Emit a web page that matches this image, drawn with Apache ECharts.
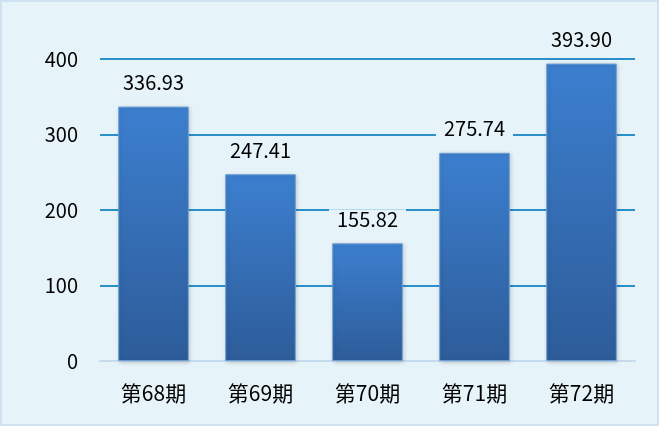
<!DOCTYPE html>
<html>
<head>
<meta charset="utf-8">
<script src="https://cdn.jsdelivr.net/npm/echarts@6/dist/echarts.min.js"></script>
<style>
  html, body { margin: 0; padding: 0; }
  #chart { width: 659px; height: 426px; box-sizing: border-box; border: 2px solid #cfe2f1; background: #e6f3f8; }
</style>
</head>
<body>
<div id="chart"></div>
<script>
const categories = ['第68期', '第69期', '第70期', '第71期', '第72期']
const values = [336.93, 247.41, 155.82, 275.74, 393.90]
const yTicks = { min: 0, max: 400, interval: 100 }

const bg = '#e6f3f8'
const font = '"Noto Sans CJK SC", "Noto Sans", sans-serif'

const myChart = echarts.init(document.getElementById('chart'))
myChart.setOption({
  backgroundColor: bg,
  textStyle: { fontFamily: font },
  grid: { left: 98, right: 22, top: 57, bottom: 63 },
  xAxis: {
    type: 'category',
    data: categories,
    axisTick: { show: false },
    axisLine: { lineStyle: { color: '#c6dcee', width: 2 } },
    axisLabel: { color: '#000', fontSize: 21, margin: 22, fontFamily: font }
  },
  yAxis: {
    type: 'value',
    min: yTicks.min,
    max: yTicks.max,
    interval: yTicks.interval,
    axisLine: { show: false },
    axisTick: { show: false },
    axisLabel: { color: '#000', fontSize: 20, margin: 22, fontFamily: font },
    splitLine: { lineStyle: { color: '#2b8fca', width: 2 } }
  },
  series: [{
    type: 'bar',
    data: values,
    barWidth: '66%',
    itemStyle: {
      color: new echarts.graphic.LinearGradient(0, 0, 0, 1, [
        { offset: 0, color: '#3c7fcf' },
        { offset: 1, color: '#2d5c99' }
      ]),
      borderColor: '#6d9fd6',
      borderWidth: 1,
      shadowColor: 'rgba(0,0,0,0.18)',
      shadowBlur: 4,
      shadowOffsetX: 1,
      shadowOffsetY: 1
    },
    label: {
      show: true,
      position: 'top',
      distance: 14,
      color: '#000',
      fontSize: 20,
      fontFamily: font,
      backgroundColor: bg,
      padding: [0, 8],
      formatter: p => p.value.toFixed(2)
    }
  }]
})
</script>
</body>
</html>
